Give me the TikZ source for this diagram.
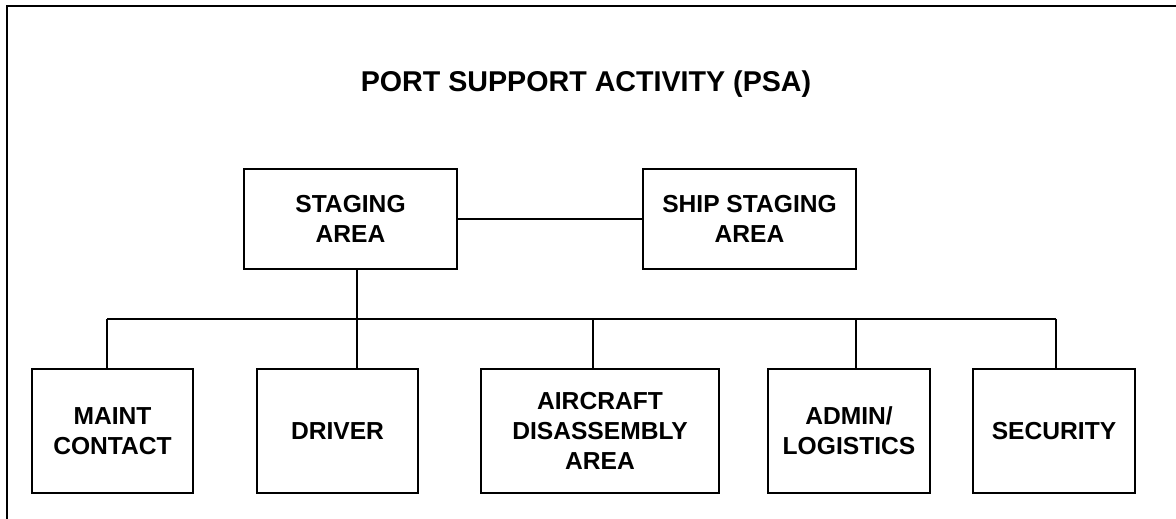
\documentclass[tikz,border=0pt]{standalone}
\usepackage{fontspec}
\setmainfont{Liberation Sans}
\usepackage{tikz}
\usetikzlibrary{positioning,calc}

\begin{document}
\begin{tikzpicture}[
		x=0.2mm,y=-0.2mm,
		unit/.style={
			draw,
			line width=0.8pt,
			align=center,
			inner sep=0pt,
			font=\fontsize{14}{17}\selectfont\bfseries
		},
		link/.style={line width=0.8pt}
		]
		
		\useasboundingbox (0,0) rectangle (1176,519);
		\draw[line width=1.5pt] (1176,6) -- (7,6) -- (7,519);
		
		\node (title) at (586,84) {\fontsize{16.3}{19}\selectfont\bfseries PORT SUPPORT ACTIVITY (PSA)};
		
		\node[unit,minimum width=213*0.2mm,minimum height=100*0.2mm] (staging) at (350.5,219) {STAGING\\AREA};
		\node[unit,minimum width=213*0.2mm,minimum height=100*0.2mm] (ship) at (749.5,219) {SHIP STAGING\\AREA};
		
		\node[unit,minimum width=161*0.2mm,minimum height=124*0.2mm] (maint) at (112.5,431) {MAINT\\CONTACT};
		\node[unit,minimum width=161*0.2mm,minimum height=124*0.2mm] (driver) at (337.5,431) {DRIVER};
		\node[unit,minimum width=238*0.2mm,minimum height=124*0.2mm] (aircraft) at (600,431) {AIRCRAFT\\DISASSEMBLY\\AREA};
		\node[unit,minimum width=162*0.2mm,minimum height=124*0.2mm] (admin) at (849,431) {ADMIN/\\LOGISTICS};
		\node[unit,minimum width=162*0.2mm,minimum height=124*0.2mm] (security) at (1054,431) {SECURITY};
		
		% bus points
		\coordinate (b1) at (107,319);
		\coordinate (b2) at (357,319);
		\coordinate (b3) at (593,319);
		\coordinate (b4) at (856,319);
		\coordinate (b5) at (1056,319);
		
		\draw[link] (staging)--(ship);
		\draw[link] (b1)--(b5);
		\draw[link] (staging.south -| b2)--(b2 |- driver.north);
		\draw[link] (b1)--(b1 |- maint.north);
		\draw[link] (b3)--(b3 |- aircraft.north);
		\draw[link] (b4)--(b4 |- admin.north);
		\draw[link] (b5)--(b5 |- security.north);
		
	\end{tikzpicture}
\end{document}
